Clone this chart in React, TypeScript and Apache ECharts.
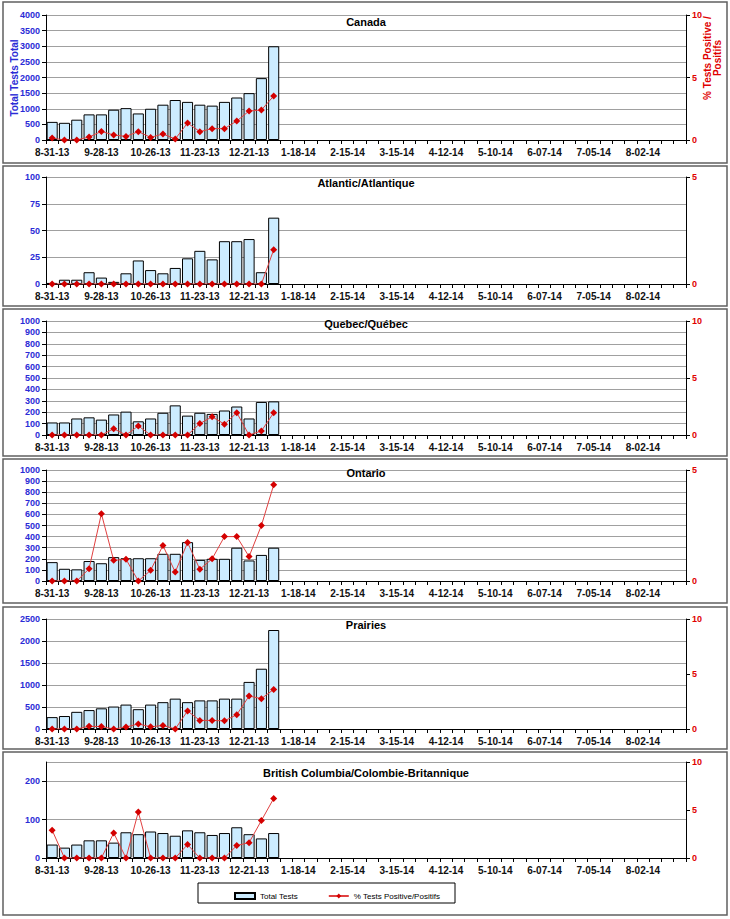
import React, { useEffect, useRef } from "react";
import * as echarts from "echarts";

const dates = [
  "8-31-13", "9-07-13", "9-14-13", "9-21-13", "9-28-13", "10-05-13", "10-12-13", "10-19-13",
  "10-26-13", "11-02-13", "11-09-13", "11-16-13", "11-23-13", "11-30-13", "12-07-13", "12-14-13",
  "12-21-13", "12-28-13", "1-04-14", "1-11-14", "1-18-14", "1-25-14", "2-01-14", "2-08-14",
  "2-15-14", "2-22-14", "3-01-14", "3-08-14", "3-15-14", "3-22-14", "3-29-14", "4-05-14",
  "4-12-14", "4-19-14", "4-26-14", "5-03-14", "5-10-14", "5-17-14", "5-24-14", "5-31-14",
  "6-07-14", "6-14-14", "6-21-14", "6-28-14", "7-05-14", "7-12-14", "7-19-14", "7-26-14",
  "8-02-14", "8-09-14", "8-16-14", "8-23-14",
];

const canadaTests = [580, 550, 650, 820, 820, 970, 1020, 850, 1000, 1130, 1280, 1220, 1130, 1100, 1220, 1360, 1500, 1980, 3000];
const canadaPct = [0.16, 0, 0, 0.24, 0.69, 0.4, 0.29, 0.67, 0.21, 0.48, 0.08, 1.36, 0.67, 0.91, 0.91, 1.52, 2.32, 2.4, 3.52];

const atlanticTests = [1, 4, 4, 11, 6, 2, 10, 22, 13, 10, 15, 24, 31, 23, 40, 40, 42, 11, 62];
const atlanticPct = [0, 0, 0, 0, 0, 0, 0, 0, 0, 0, 0, 0, 0, 0, 0, 0, 0, 0, 1.6];

const quebecTests = [110, 110, 145, 155, 135, 180, 205, 120, 145, 195, 260, 170, 195, 185, 215, 250, 145, 290, 295];
const quebecPct = [0, 0, 0, 0, 0, 0.55, 0, 0.8, 0, 0, 0, 0, 1.0, 1.6, 0.95, 1.95, 0, 0.35, 1.95];

const ontarioTests = [170, 110, 105, 180, 160, 215, 205, 205, 205, 245, 245, 350, 190, 200, 200, 300, 185, 235, 300];
const ontarioPct = [0, 0, 0, 0.55, 3.03, 0.93, 0.98, 0, 0.48, 1.6, 0.4, 1.73, 0.53, 1.0, 2.0, 2.0, 1.1, 2.5, 4.33];

const prairiesTests = [270, 295, 390, 430, 470, 510, 555, 450, 555, 610, 690, 610, 650, 650, 690, 690, 1070, 1370, 2250];
const prairiesPct = [0, 0, 0, 0.24, 0.22, 0, 0.18, 0.46, 0.2, 0.32, 0, 1.64, 0.78, 0.78, 0.74, 1.3, 3.0, 2.76, 3.6];

const bcTests = [35, 27, 35, 46, 46, 40, 67, 62, 69, 65, 58, 72, 67, 60, 65, 80, 62, 51, 65];
const bcPct = [2.9, 0, 0, 0, 0, 2.6, 0, 4.8, 0, 0, 0, 1.4, 0, 0, 0, 1.3, 1.6, 3.9, 6.2];

const panelTitles = [
  "Canada",
  "Atlantic/Atlantique",
  "Quebec/Québec",
  "Ontario",
  "Prairies",
  "British Columbia/Colombie-Britannique",
];
const leftMax = [4000, 100, 1000, 1000, 2500, 250];
const leftInterval = [500, 25, 100, 100, 500, 100];
const rightMax = [10, 5, 10, 5, 10, 10];
const rightInterval = [5, 5, 5, 5, 5, 5];

const barName = "Total Tests";
const lineName = "% Tests Positive/Positifs";

export default function App() {
  const ref = useRef<HTMLDivElement>(null);

  useEffect(() => {
    if (!ref.current) return;
    const chart = echarts.init(ref.current, null, { renderer: "svg" });
    const FONT = "Liberation Sans, Arial, sans-serif";
    const tests = [canadaTests, atlanticTests, quebecTests, ontarioTests, prairiesTests, bcTests];
    const pct = [canadaPct, atlanticPct, quebecPct, ontarioPct, prairiesPct, bcPct];
    const layout = [
      { top: 15, h: 125, title: 22 },
      { top: 177, h: 107, title: 183 },
      { top: 321, h: 114, title: 324 },
      { top: 470, h: 111, title: 473 },
      { top: 619, h: 110, title: 625 },
      { top: 762, h: 96, title: 773 },
    ];
    const frames = [
      [2, 163],
      [166, 306],
      [309, 456],
      [459, 603],
      [607, 749],
      [752, 915],
    ];
    const plotLeft = 46;
    const plotWidth = 640;

    const grid: any[] = [];
    const xAxis: any[] = [];
    const yAxis: any[] = [];
    const series: any[] = [];
    const graphic: any[] = [];

    frames.forEach(([y0, y1]) => {
      graphic.push({
        type: "rect",
        shape: { x: 3, y: y0, width: 724, height: y1 - y0 },
        style: { fill: "none", stroke: "#606060", lineWidth: 1.5 },
        silent: true,
        z: 0,
      });
    });

    layout.forEach((l, i) => {
      grid.push({ left: plotLeft, width: plotWidth, top: l.top, height: l.h });
      xAxis.push({
        type: "category",
        gridIndex: i,
        data: dates,
        boundaryGap: true,
        axisLine: { show: true, onZero: false, lineStyle: { color: "#000", width: 1 } },
        axisTick: { show: true, interval: 0, length: 4, lineStyle: { color: "#000" } },
        axisLabel: {
          interval: 3,
          margin: 7,
          color: "#111",
          fontSize: 10,
          fontWeight: "bold",
          fontFamily: FONT,
        },
        splitLine: { show: false },
      });
      yAxis.push({
        type: "value",
        gridIndex: i,
        position: "left",
        min: 0,
        max: leftMax[i],
        interval: leftInterval[i],
        axisLine: { show: true, lineStyle: { color: "#000", width: 1 } },
        axisTick: { show: true, length: 4, lineStyle: { color: "#000" } },
        axisLabel: {
          margin: 6,
          color: "#2b2bd6",
          fontSize: 9,
          fontWeight: "bold",
          fontFamily: FONT,
          showMaxLabel: leftMax[i] % leftInterval[i] === 0,
          formatter: (v: number) => String(v),
        },
        splitLine: { show: true, lineStyle: { color: "#a0a0a0", width: 1 } },
      });
      yAxis.push({
        type: "value",
        gridIndex: i,
        position: "right",
        min: 0,
        max: rightMax[i],
        interval: rightInterval[i],
        axisLine: { show: true, lineStyle: { color: "#000", width: 1 } },
        axisTick: { show: true, length: 4, lineStyle: { color: "#000" } },
        axisLabel: {
          margin: 6,
          color: "#e00000",
          fontSize: 9,
          fontWeight: "bold",
          fontFamily: FONT,
          formatter: (v: number) => String(v),
        },
        splitLine: { show: false },
      });
      series.push({
        type: "bar",
        name: barName,
        xAxisIndex: i,
        yAxisIndex: i * 2,
        data: tests[i],
        barCategoryGap: "10%",
        itemStyle: { color: "#ccecff", borderColor: "#000", borderWidth: 1 },
        z: 2,
      });
      series.push({
        type: "line",
        name: lineName,
        xAxisIndex: i,
        yAxisIndex: i * 2 + 1,
        data: pct[i],
        symbol: "diamond",
        symbolSize: 7,
        lineStyle: { color: "#e04040", width: 1 },
        itemStyle: { color: "#d40000" },
        z: 3,
      });
      graphic.push({
        type: "text",
        x: 366,
        y: l.title,
        style: {
          text: panelTitles[i],
          fill: "#000",
          font: `bold 11px ${FONT}`,
          textAlign: "center",
          textVerticalAlign: "middle",
        },
        z: 10,
      });
    });

    graphic.push({
      type: "text",
      x: 14,
      y: 78,
      rotation: Math.PI / 2,
      style: {
        text: "Total Tests Total",
        fill: "#2b2bd6",
        font: `bold 10px ${FONT}`,
        textAlign: "center",
        textVerticalAlign: "middle",
      },
      z: 10,
    });
    graphic.push({
      type: "text",
      x: 712,
      y: 58,
      rotation: Math.PI / 2,
      style: {
        text: "% Tests Positive /\nPositifs",
        fill: "#e00000",
        font: `bold 10px ${FONT}`,
        lineHeight: 10,
        textAlign: "center",
        textVerticalAlign: "middle",
      },
      z: 10,
    });
    graphic.push({
      type: "rect",
      shape: { x: 198, y: 883, width: 257, height: 20 },
      style: { fill: "#fff", stroke: "#000", lineWidth: 1 },
      silent: true,
      z: 1,
    });

    chart.setOption({
      animation: false,
      backgroundColor: "#fff",
      grid,
      xAxis,
      yAxis,
      series,
      graphic,
      legend: {
        data: [{ name: barName, icon: "rect" }, { name: lineName }],
        left: 229,
        top: 887,
        itemWidth: 20,
        itemHeight: 6,
        itemGap: 30,
        z: 20,
        textStyle: { fontSize: 8, color: "#000", fontFamily: FONT },
      },
    });

    return () => chart.dispose();
  }, []);

  return (
    <div
      ref={ref}
      style={{ position: "absolute", left: 0, top: 0, width: 730, height: 919 }}
    />
  );
}
